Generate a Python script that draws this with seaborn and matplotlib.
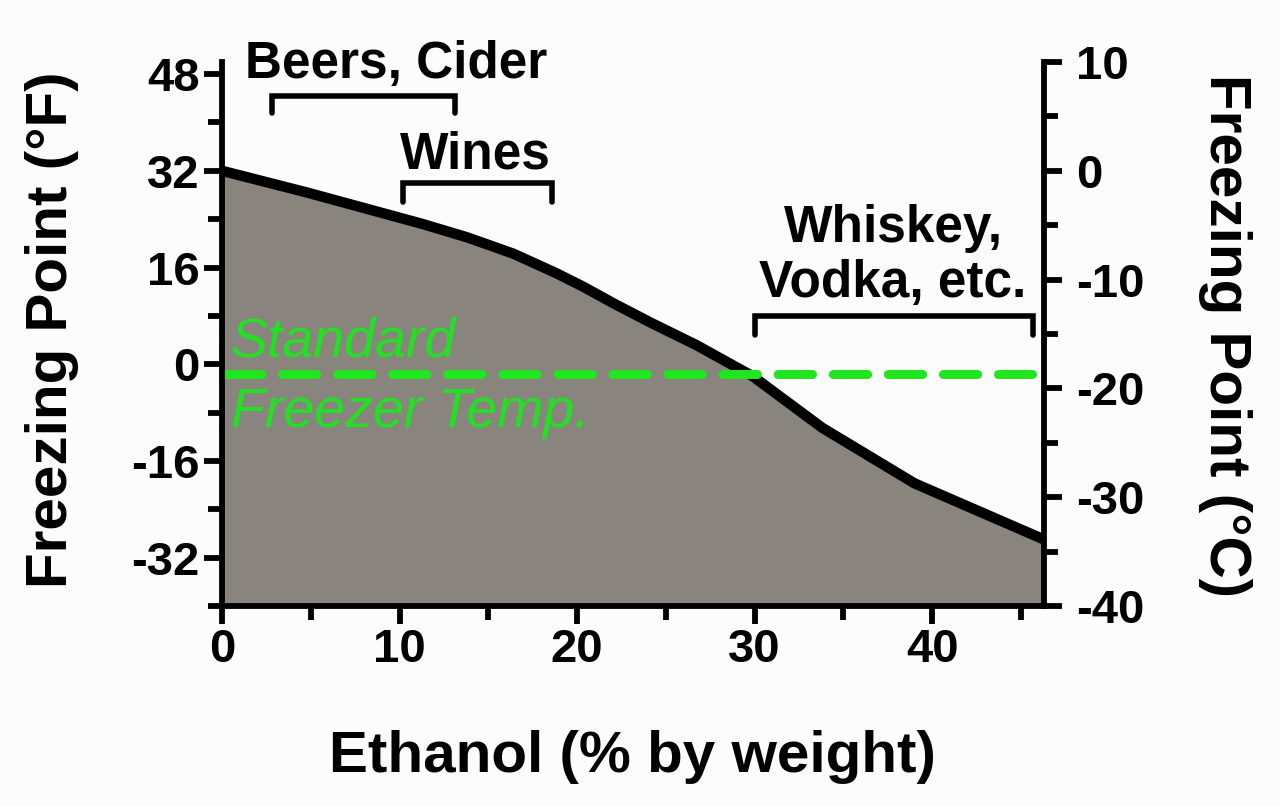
import numpy as np
import pandas as pd
import matplotlib
matplotlib.use("Agg")
import matplotlib.pyplot as plt
import seaborn as sns

# freezing point of ethanol / water
ethanol_pct = [0, 4.8, 11.3, 13.8, 16.4, 18.8, 20.3, 22.1, 24.2, 26.7, 29.9, 33.8, 39.0, 46.3]
freeze_f = [32, 28.4, 23.2, 21.0, 18.3, 15.1, 12.9, 10.0, 6.8, 3.2, -2.0, -10.5, -19.7, -29.0]
freezer_temp_f = -1.7

left_ticks = [-32, -16, 0, 16, 32, 48]
left_minor = [-40, -24, -8, 8, 24, 40]
right_ticks = [-40, -30, -20, -10, 0, 10]
right_minor = [-35, -25, -15, -5, 5]
x_ticks = [0, 10, 20, 30, 40]
x_minor = [5, 15, 25, 35, 45]

# drink ranges (x start, x end, bracket top in F, bracket foot in F)
groups = ["Beers, Cider", "Wines", "Whiskey,\nVodka, etc."]
grp_start = [2.8, 10.2, 30.0]
grp_end = [13.1, 18.6, 45.7]
grp_top = [44.4, 30.0, 8.0]
grp_foot = [41.6, 26.8, 4.8]
grp_label_x = [9.8, 14.3, 37.8]
grp_label_y = [47.4, 32.3, 11.2]

df = pd.DataFrame({"ethanol": ethanol_pct, "fp": freeze_f})

sns.set_style("ticks")
plt.rcParams["font.family"] = ["Liberation Sans", "DejaVu Sans"]
plt.rcParams["font.weight"] = "bold"
plt.rcParams["text.color"] = "black"
plt.rcParams["xtick.color"] = "black"
plt.rcParams["ytick.color"] = "black"
plt.rcParams["axes.edgecolor"] = "black"
plt.rcParams["axes.unicode_minus"] = False

fig = plt.figure(figsize=(12.8, 8.06), dpi=100, facecolor="#fcfcfc")
ax = fig.add_axes([222 / 1280, 1 - 606 / 806, 822 / 1280, 544 / 806])
ax.set_facecolor("none")

xmax = 46.3
ymin, ymax = -40, 50

ax.fill_between(df["ethanol"], df["fp"], ymin, color="#8a847f", zorder=1, linewidth=0)
sns.lineplot(data=df, x="ethanol", y="fp", ax=ax, color="black", linewidth=7.5,
             solid_capstyle="round", solid_joinstyle="round", zorder=3)
ax.plot([0.3, 45.6], [freezer_temp_f, freezer_temp_f], color="#1fe61f", linewidth=6.5,
        dashes=(3.8, 2.3), dash_capstyle="round", zorder=4)

ax.text(0.5, 1.2, "Standard", color="#22e022", fontsize=40, style="italic",
        fontweight="normal", ha="left", va="baseline", zorder=5)
ax.text(0.5, -10.4, "Freezer Temp.", color="#22e022", fontsize=40, style="italic",
        fontweight="normal", ha="left", va="baseline", zorder=5)

for name, x0, x1, top, foot, lx, ly in zip(groups, grp_start, grp_end, grp_top, grp_foot,
                                           grp_label_x, grp_label_y):
    ax.plot([x0, x0, x1, x1], [foot, top, top, foot], color="black", linewidth=4,
            solid_capstyle="round", solid_joinstyle="miter", clip_on=False, zorder=5)
    ax.text(lx, ly, name, fontsize=37, fontweight="bold", ha="center", va="baseline",
            linespacing=1.15, clip_on=False)

ax.set_xlim(0, xmax)
ax.set_ylim(ymin, ymax)
ax.set_xticks(x_ticks)
ax.set_xticks(x_minor, minor=True)
ax.set_yticks(left_ticks)
ax.set_yticks(left_minor, minor=True)
ax.set_xlabel("")
ax.set_ylabel("")

for s in ["top", "right"]:
    ax.spines[s].set_visible(False)
for s in ["left", "bottom"]:
    ax.spines[s].set_linewidth(4.2)
    ax.spines[s].set_zorder(6)

ax.tick_params(axis="both", which="major", length=13, width=4.2, labelsize=34, pad=3)
ax.tick_params(axis="both", which="minor", length=10, width=4.2)

ax2 = ax.twinx()
ax2.set_ylim((ymin - 32) / 1.8, (ymax - 32) / 1.8)
ax2.set_yticks(right_ticks)
ax2.set_yticks(right_minor, minor=True)
for s in ["top", "left", "bottom"]:
    ax2.spines[s].set_visible(False)
ax2.spines["right"].set_linewidth(4.2)
ax2.tick_params(axis="y", which="major", length=13, width=4.2, labelsize=34, pad=10)
ax2.tick_params(axis="y", which="minor", length=10, width=4.2)

for a in (ax, ax2):
    for lab in a.get_xticklabels() + a.get_yticklabels():
        lab.set_fontweight("bold")

fig.text(52 / 1280, 1 - 330 / 806, "Freezing Point (°F)", rotation=90, fontsize=42,
         fontweight="bold", ha="center", va="center")
fig.text(1225 / 1280, 1 - 335 / 806, "Freezing Point (°C)", rotation=270, fontsize=42,
         fontweight="bold", ha="center", va="center")
fig.text(632 / 1280, 1 - 757 / 806, "Ethanol (% by weight)", fontsize=42,
         fontweight="bold", ha="center", va="center")

fig.savefig("out.png", dpi=100, facecolor=fig.get_facecolor())
